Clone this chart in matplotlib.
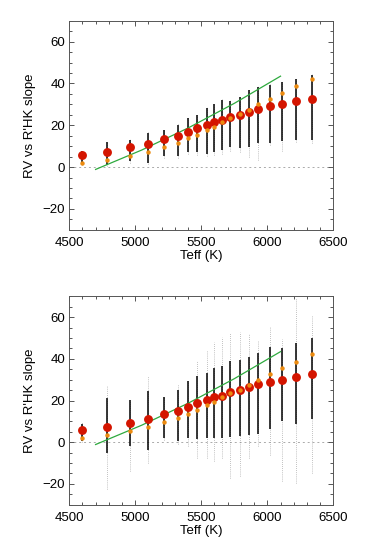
import matplotlib
matplotlib.use("Agg")
import matplotlib.pyplot as plt
from matplotlib.ticker import MultipleLocator

plt.rcParams['font.family'] = ['Liberation Sans', 'DejaVu Sans']

# ---- data ----
teff = [4600, 4790, 4960, 5100, 5220, 5320, 5400, 5470, 5540, 5600,
        5660, 5720, 5790, 5860, 5930, 6020, 6110, 6220, 6340]
red_slope = [5.7, 7.2, 9.4, 11.3, 13.4, 15.1, 17.0, 18.6, 20.1, 21.5,
             22.4, 23.9, 25.0, 26.4, 27.9, 29.0, 30.1, 31.4, 32.6]
orange_slope = [2.1, 3.3, 5.3, 7.2, 9.5, 11.5, 13.7, 15.6, 17.7, 19.4,
                21.5, 23.4, 25.3, 27.4, 30.1, 32.6, 35.5, 38.7, 42.2]

green_teff = [4700, 5050, 5400, 5750, 6100]
green_slope = [-1.1, 8.2, 18.7, 30.5, 43.5]

# top panel: dense core and sparse extent of each bin's points
top_core_hi = [7.5, 11.9, 13.0, 16.2, 17.8, 20.2, 23.4, 25.0, 28.2, 30.1,
               32.1, 31.8, 33.7, 36.9, 38.5, 39.3, 40.9, 42.0, 44.0]
top_core_lo = [1.4, 0.8, 2.7, 2.2, 5.5, 5.5, 7.0, 7.0, 6.4, 7.0,
               8.0, 9.5, 9.1, 9.5, 11.5, 11.5, 12.3, 13.0, 13.0]
top_tail_hi = [7.8, 12.3, 13.4, 16.6, 18.2, 20.6, 23.8, 25.4, 28.6, 30.5,
               32.5, 32.2, 34.1, 37.3, 38.9, 39.7, 41.3, 42.4, 44.5]
top_tail_lo = [1.0, 0.5, 2.0, 1.5, 4.5, 4.5, 6.5, 6.0, 5.5, 6.0,
               6.5, 7.5, 7.0, 5.0, 3.5, 10.5, 7.5, 12.0, 11.5]

# bottom panel
bot_core_hi = [8.9, 21.2, 20.4, 24.4, 21.9, 25.2, 29.2, 31.6, 33.2, 35.6,
               36.4, 38.8, 39.6, 41.1, 42.7, 45.9, 45.3, 47.5, 50.0]
bot_core_lo = [0.5, -5.0, -1.9, -3.5, 2.1, 0.5, 2.0, 1.4, 2.2, 2.0,
               2.0, 2.5, 3.0, 3.5, 4.0, 6.2, 10.0, 8.6, 11.0]
bot_tail_hi = [9.5, 27.6, 20.4, 31.9, 21.9, 27.6, 29.2, 38.8, 44.3, 48.3,
               50.7, 52.3, 53.1, 52.3, 49.1, 55.2, 49.4, 69.0, 61.0]
bot_tail_lo = [0.0, -22.6, -13.9, -9.9, 1.0, -1.0, -2.0, -7.5, -7.5, -9.1,
               -7.5, -17.0, -16.3, -7.5, -1.8, -5.9, -18.7, -19.8, -15.0]

RED = '#d41500'
ORANGE = '#ec8b10'
GREEN = '#2eaa3e'
AXC = '#555555'

fig = plt.figure(figsize=(3.70, 5.46), dpi=100)
ax_top = fig.add_axes([0.187, 0.579, 0.714, 0.383])
ax_bot = fig.add_axes([0.187, 0.0756, 0.714, 0.3815])


def draw(ax, core_lo, core_hi, tail_lo, tail_hi):
    ax.vlines(teff, tail_lo, tail_hi, colors='#888888', linewidth=0.5,
              linestyles=(0, (1, 2)), zorder=2)
    ax.vlines(teff, core_lo, core_hi, colors='black', linewidth=1.1, zorder=3)
    ax.axhline(0, color='#aaaaaa', linewidth=0.7, linestyle=(0, (2, 3)), zorder=1)
    ax.plot(green_teff, green_slope, color=GREEN, linewidth=0.9, zorder=4)
    ax.plot(teff, red_slope, 'o', color=RED, markersize=6.4,
            markeredgewidth=0, zorder=5)
    ax.plot(teff, orange_slope, 'o', color=ORANGE, markersize=3.2,
            markeredgewidth=0, zorder=6)
    ax.set_xlim(4500, 6500)
    ax.set_ylim(-30, 70)
    ax.xaxis.set_major_locator(MultipleLocator(500))
    ax.xaxis.set_minor_locator(MultipleLocator(100))
    ax.yaxis.set_major_locator(MultipleLocator(20))
    ax.yaxis.set_minor_locator(MultipleLocator(5))
    ax.tick_params(which='both', direction='in', top=True, right=True,
                   color=AXC, width=0.7, labelsize=9.5)
    ax.tick_params(which='major', length=3.8)
    ax.tick_params(which='minor', length=1.9)
    ax.tick_params(axis='x', pad=5)
    ax.tick_params(axis='y', pad=3)
    for s in ax.spines.values():
        s.set_color(AXC)
        s.set_linewidth(0.7)
    ax.set_xlabel('Teff (K)', fontsize=9.5, labelpad=1)
    ax.set_ylabel("RV vs R'HK slope", fontsize=9.5, labelpad=5)


draw(ax_top, top_core_lo, top_core_hi, top_tail_lo, top_tail_hi)
draw(ax_bot, bot_core_lo, bot_core_hi, bot_tail_lo, bot_tail_hi)

fig.savefig('out.png', dpi=100)
